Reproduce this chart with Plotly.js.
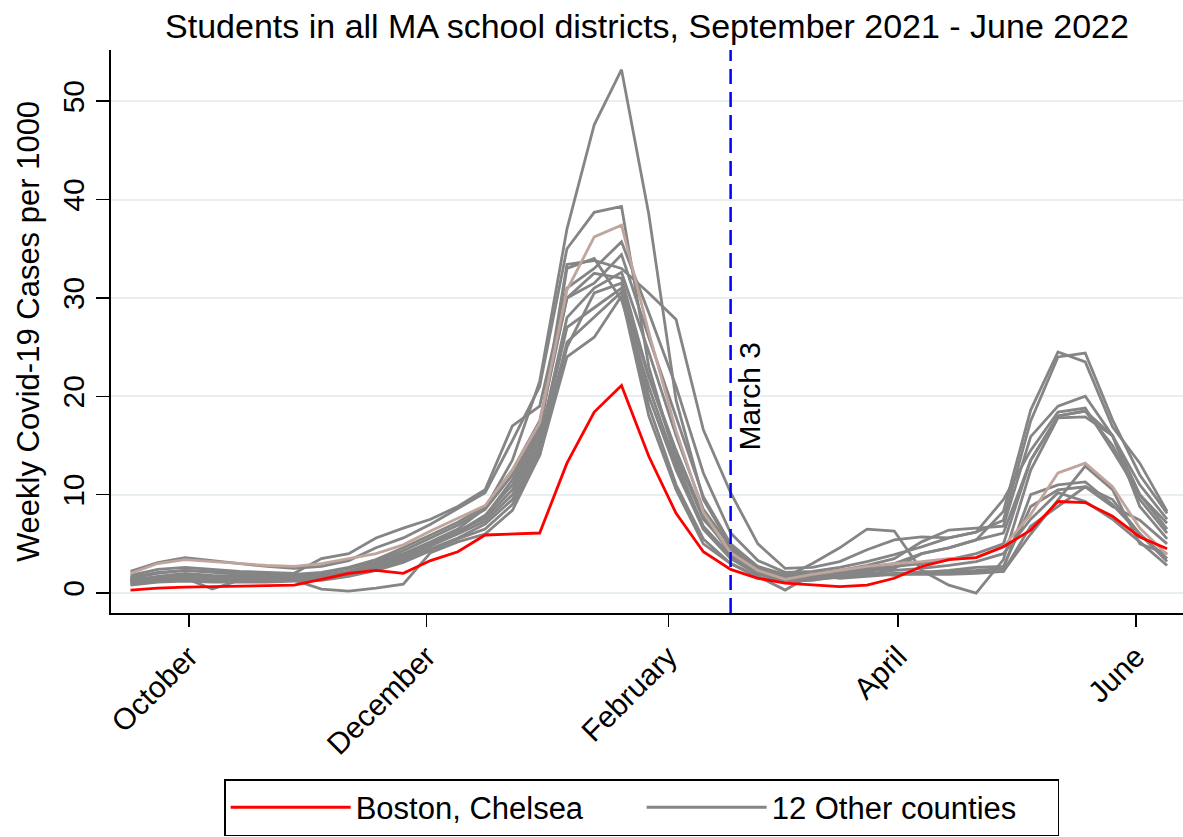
<!DOCTYPE html>
<html>
<head>
<meta charset="utf-8">
<script src="https://cdn.plot.ly/plotly-3.0.1.min.js"></script>
<style>
  html, body { margin: 0; padding: 0; background: #ffffff; }
  #chart { width: 1183px; height: 837px; }
</style>
</head>
<body>
<div id="chart"></div>
<script>
// Weekly dates (Thursdays), Sep 30 2021 - Jun 23 2022
const weeks = [
  '2021-09-30','2021-10-07','2021-10-14','2021-10-21','2021-10-28',
  '2021-11-04','2021-11-11','2021-11-18','2021-11-25','2021-12-02',
  '2021-12-09','2021-12-16','2021-12-23','2021-12-30','2022-01-06',
  '2022-01-13','2022-01-20','2022-01-27','2022-02-03','2022-02-10',
  '2022-02-17','2022-02-24','2022-03-03','2022-03-10','2022-03-17',
  '2022-03-24','2022-03-31','2022-04-07','2022-04-14','2022-04-21',
  '2022-04-28','2022-05-05','2022-05-12','2022-05-19','2022-05-26',
  '2022-06-02','2022-06-09','2022-06-16','2022-06-23'
];

// Boston, Chelsea (red)
const bostonChelsea = [0.3,0.5,0.6,0.65,0.7,0.7,0.8,1.4,2.0,2.3,2.0,3.3,4.2,5.9,6.0,6.1,13.2,18.4,21.1,13.9,8.1,4.2,2.4,1.5,1.0,0.8,0.65,0.8,1.5,2.7,3.4,3.6,4.7,6.4,9.3,9.2,7.8,5.7,4.5];

// Highlighted other county (rosy line)
const rosyCounty = [2.0,3.0,3.4,3.2,3.0,2.8,2.7,3.0,3.5,4.0,4.9,6.3,7.6,8.9,12.5,17.3,30.8,36.2,37.4,26.5,16.5,8.2,4.1,2.3,1.4,1.9,2.3,2.7,3.0,3.2,3.5,3.6,4.7,8.0,12.2,13.2,10.8,6.6,3.9];

// 12 other counties (gray)
const county01 = [1.3,1.6,1.9,1.6,1.5,1.4,1.5,1.7,2.2,3.0,4.0,5.2,6.5,8.6,13.5,21.5,37.0,47.6,53.2,38.5,19.6,9.5,4.8,2.6,1.7,1.8,2.1,2.4,2.7,3.0,3.4,4.0,5.0,13.5,18.0,18.5,16.0,10.0,7.1];
const county02 = [2.2,3.1,3.6,3.3,3.0,2.7,2.5,2.7,3.3,4.6,5.6,7.0,8.6,10.2,15.5,21.0,35.0,38.7,39.3,23.0,13.5,6.5,3.7,2.1,1.5,1.7,2.1,2.6,3.0,4.0,4.6,5.4,8.3,18.6,24.5,23.5,16.9,13.2,8.3];
const county03 = [1.8,2.4,2.6,2.4,2.2,2.1,2.0,3.5,4.0,5.6,6.6,7.5,8.8,10.5,17.0,19.0,31.0,33.0,35.7,28.5,21.0,12.2,6.1,3.3,2.1,2.2,2.6,3.2,3.9,4.7,5.6,6.2,7.4,17.5,24.0,24.4,17.6,12.0,8.1];
const county04 = [1.5,2.0,2.3,2.1,1.9,1.8,1.8,2.0,2.5,3.2,4.3,5.6,6.9,8.5,12.0,17.0,30.0,31.5,34.4,26.0,18.0,9.8,5.0,2.7,1.9,2.0,2.3,2.8,3.5,5.2,6.4,6.6,6.8,15.9,19.0,20.0,16.0,11.0,7.5];
const county05 = [1.0,1.4,1.5,1.4,1.3,1.3,1.4,1.5,1.9,2.6,3.5,4.8,6.2,7.8,11.5,16.5,33.4,33.8,33.0,30.5,27.8,16.6,10.2,5.0,2.5,2.6,3.2,4.4,5.4,5.7,5.6,6.2,9.5,14.5,18.4,18.8,14.5,10.0,6.5];
const county06 = [1.2,1.7,2.0,1.8,1.7,1.6,1.6,1.8,2.2,2.9,3.9,5.0,6.3,7.6,10.5,15.5,28.0,31.0,32.6,24.5,16.0,8.5,4.7,2.5,1.6,1.7,2.0,2.2,2.5,4.0,4.6,5.4,6.1,13.5,18.0,18.5,15.0,9.5,6.1];
const county07 = [1.6,2.1,2.3,2.2,2.0,1.9,1.9,2.1,2.6,3.4,4.6,5.9,7.2,8.8,12.5,17.5,30.0,32.5,32.0,22.0,14.5,7.8,4.0,2.2,1.6,3.0,4.6,6.5,6.3,2.3,0.8,0.0,3.4,12.5,17.8,17.9,16.0,8.8,5.5];
const county08 = [1.4,1.6,1.8,1.7,1.6,1.5,1.3,0.4,0.2,0.5,0.9,4.1,5.2,6.0,8.4,14.0,25.0,30.5,31.5,20.0,12.5,6.5,3.5,1.9,1.3,1.4,1.6,1.8,2.0,2.1,2.3,2.6,2.7,8.8,10.5,10.8,9.5,6.0,3.5];
const county09 = [1.1,1.3,1.5,0.4,1.3,1.4,1.5,1.6,2.0,2.7,3.6,4.8,6.0,7.3,10.0,15.0,27.0,29.0,31.0,19.0,11.0,5.5,3.0,1.7,0.3,1.9,1.5,1.7,1.9,2.0,2.2,2.3,2.5,10.0,11.0,11.3,9.0,6.0,3.2];
const county10 = [0.9,1.2,1.3,1.2,1.2,1.2,1.3,1.4,1.8,2.4,3.3,4.5,5.6,7.0,9.5,14.5,25.5,28.0,30.6,22.0,14.0,7.5,4.4,2.4,1.2,1.3,1.7,1.9,2.3,2.5,2.8,3.2,4.0,7.5,10.2,9.3,7.5,5.2,2.8];
const county11 = [0.8,1.1,1.2,1.1,1.1,1.1,1.2,1.3,1.7,2.3,3.1,4.3,5.5,6.5,9.0,14.0,24.0,26.0,30.2,18.0,10.5,5.0,3.0,1.6,1.1,1.5,1.9,2.1,1.8,2.2,2.0,2.1,2.2,6.8,8.8,10.8,8.8,7.4,5.0];
const county12 = [1.3,1.5,1.7,1.6,1.5,1.4,1.4,1.6,2.0,2.8,3.8,5.0,6.2,7.9,11.0,16.0,33.0,34.0,29.8,21.0,13.0,6.8,3.8,2.0,1.4,1.6,1.8,2.0,1.9,1.9,1.9,2.0,2.2,6.0,9.5,12.9,10.5,5.0,4.0];

const otherCounties = [county01,county02,county03,county04,county05,county06,
                       county07,county08,county09,county10,county11,county12];

// Axis ticks (mid-month)
const tickDates = ['2021-10-15','2021-12-15','2022-02-15','2022-04-15','2022-06-15'];
const tickLabels = ['October','December','February','April','June'];
const markerDate = '2022-03-03';
const markerLabel = 'March 3';

const FONT = 'Liberation Sans, Arial, Helvetica, sans-serif';
const GRAY = '#858585';

const traces = [];
otherCounties.forEach((vals, i) => {
  traces.push({
    x: weeks, y: vals, type: 'scatter', mode: 'lines',
    line: {color: GRAY, width: 2.8},
    name: '12 Other counties', legendgroup: 'other',
    showlegend: i === 0, legendrank: 2, hoverinfo: 'skip'
  });
});
traces.push({
  x: weeks, y: rosyCounty, type: 'scatter', mode: 'lines',
  line: {color: '#c0a59d', width: 2.8},
  showlegend: false, hoverinfo: 'skip'
});
traces.push({
  x: weeks, y: bostonChelsea, type: 'scatter', mode: 'lines',
  line: {color: '#ff0000', width: 2.8},
  name: 'Boston, Chelsea', legendrank: 1, hoverinfo: 'skip'
});

const layout = {
  width: 1183, height: 837,
  paper_bgcolor: '#ffffff', plot_bgcolor: '#ffffff',
  font: {family: FONT, size: 30, color: '#000000'},
  margin: {l: 111, r: 0, t: 50, b: 224},
  title: {
    text: 'Students in all MA school districts, September 2021 - June 2022',
    font: {family: FONT, size: 34, color: '#000000'},
    x: 0.5, xref: 'paper', xanchor: 'center',
    y: 0.969, yref: 'container', yanchor: 'middle'
  },
  xaxis: {
    type: 'date',
    range: ['2021-09-25', '2022-06-27 02:00'],
    tickmode: 'array', tickvals: tickDates, ticktext: tickLabels,
    tickangle: -45,
    showgrid: false, zeroline: false,
    showline: true, linecolor: '#000000', linewidth: 2,
    ticks: 'outside', ticklen: 12, tickwidth: 1.5, tickcolor: '#000000',
    tickfont: {family: FONT, size: 30, color: '#000000'}
  },
  yaxis: {
    range: [-2.03, 55.2],
    tickmode: 'array', tickvals: [0,10,20,30,40,50],
    tickangle: -90,
    showgrid: true, gridcolor: '#e7eff2', gridwidth: 2,
    zeroline: false,
    showline: true, linecolor: '#000000', linewidth: 2,
    ticks: 'outside', ticklen: 13, tickwidth: 1.5, tickcolor: '#000000',
    tickfont: {family: FONT, size: 30, color: '#000000'},
    title: {text: 'Weekly Covid-19 Cases per 1000',
            font: {family: FONT, size: 31, color: '#000000'}, standoff: 8}
  },
  showlegend: true,
  legend: {
    orientation: 'h', x: 0.495, xanchor: 'center', y: -0.295, yanchor: 'top',
    bordercolor: '#000000', borderwidth: 1.5, bgcolor: '#ffffff',
    font: {family: FONT, size: 31, color: '#000000'},
    itemwidth: 120, entrywidth: 281, entrywidthmode: 'pixels',
    traceorder: 'normal'
  },
  shapes: [{
    type: 'line', xref: 'x', yref: 'paper',
    x0: markerDate, x1: markerDate, y0: 0, y1: 1,
    line: {color: '#0000ff', width: 2.5, dash: '15px,8px'}
  }],
  annotations: [{
    x: markerDate, xref: 'x', y: 14.3, yref: 'y',
    text: markerLabel, textangle: -90, showarrow: false,
    xanchor: 'left', yanchor: 'bottom', xshift: 0,
    font: {family: FONT, size: 30, color: '#000000'}
  }]
};

Plotly.newPlot('chart', traces, layout, {displayModeBar: false, staticPlot: true});
</script>
</body>
</html>
